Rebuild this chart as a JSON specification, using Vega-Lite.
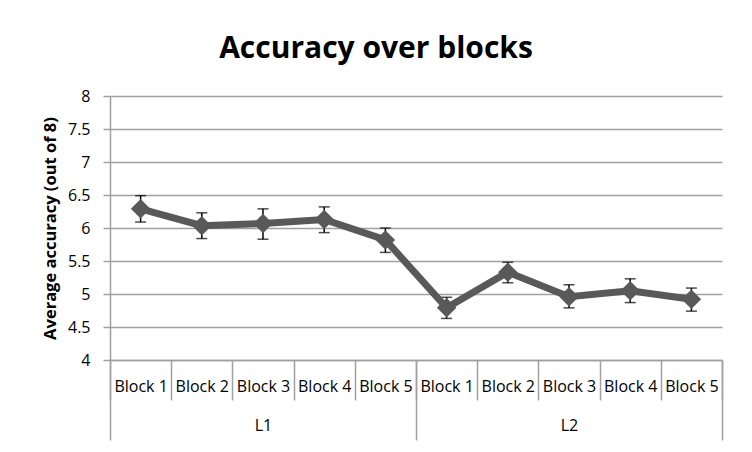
{
  "$schema": "https://vega.github.io/schema/vega-lite/v6.json",
  "width": 612,
  "height": 264,
  "autosize": {"type": "none"},
  "padding": {"left": 110, "top": 96, "right": 30, "bottom": 92},
  "background": "white",
  "title": {
    "text": "Accuracy over blocks",
    "font": "Open Sans",
    "fontSize": 30,
    "fontWeight": "bold",
    "color": "black",
    "anchor": "middle",
    "dx": -40,
    "offset": 24
  },
  "data": {
    "values": [
      {"pos": 0.5, "block": "Block 1", "level": "L1", "mean": 6.29, "lo": 6.09, "hi": 6.49},
      {"pos": 1.5, "block": "Block 2", "level": "L1", "mean": 6.035, "lo": 5.84, "hi": 6.23},
      {"pos": 2.5, "block": "Block 3", "level": "L1", "mean": 6.07, "lo": 5.83, "hi": 6.29},
      {"pos": 3.5, "block": "Block 4", "level": "L1", "mean": 6.13, "lo": 5.93, "hi": 6.32},
      {"pos": 4.5, "block": "Block 5", "level": "L1", "mean": 5.82, "lo": 5.63, "hi": 6.0},
      {"pos": 5.5, "block": "Block 1", "level": "L2", "mean": 4.79, "lo": 4.63, "hi": 4.95},
      {"pos": 6.5, "block": "Block 2", "level": "L2", "mean": 5.33, "lo": 5.17, "hi": 5.48},
      {"pos": 7.5, "block": "Block 3", "level": "L2", "mean": 4.96, "lo": 4.79, "hi": 5.14},
      {"pos": 8.5, "block": "Block 4", "level": "L2", "mean": 5.05, "lo": 4.87, "hi": 5.23},
      {"pos": 9.5, "block": "Block 5", "level": "L2", "mean": 4.92, "lo": 4.74, "hi": 5.09}
    ]
  },
  "layer": [
    {
      "mark": {"type": "errorbar", "color": "black", "thickness": 1.5, "ticks": {"size": 11, "color": "black", "thickness": 1.5}},
      "encoding": {
        "x": {"field": "pos", "type": "quantitative", "scale": {"domain": [0, 10], "nice": false, "zero": false}, "axis": null},
        "y": {"field": "lo", "type": "quantitative", "scale": {"domain": [4, 8], "nice": false, "zero": false}, "title": "Average accuracy (out of 8)"},
        "y2": {"field": "hi"}
      }
    },
    {
      "mark": {"type": "line", "color": "#595959", "strokeWidth": 7},
      "encoding": {
        "x": {"field": "pos", "type": "quantitative", "scale": {"domain": [0, 10], "nice": false, "zero": false},
          "axis": {"orient": "bottom", "values": [0.5, 1.5, 2.5, 3.5, 4.5, 5.5, 6.5, 7.5, 8.5, 9.5], "labelExpr": "'Block ' + (floor(datum.value) % 5 + 1)", "ticks": false, "domain": true, "labelPadding": 18, "title": null}},
        "y": {"field": "mean", "type": "quantitative", "title": "Average accuracy (out of 8)"}
      }
    },
    {
      "mark": {"type": "point", "shape": "diamond", "filled": true, "color": "#595959", "size": 380, "opacity": 1},
      "encoding": {
        "x": {"field": "pos", "type": "quantitative", "scale": {"domain": [0, 10], "nice": false, "zero": false},
          "axis": {"orient": "bottom", "values": [0, 1, 2, 3, 4, 5, 6, 7, 8, 9, 10], "labels": false, "ticks": true, "tickSize": 40, "domain": false, "title": null}},
        "y": {"field": "mean", "type": "quantitative", "title": "Average accuracy (out of 8)"}
      }
    },
    {
      "mark": {"type": "point", "opacity": 0},
      "encoding": {
        "x": {"field": "pos", "type": "quantitative", "scale": {"domain": [0, 10], "nice": false, "zero": false},
          "axis": {"orient": "bottom", "values": [0, 5, 10], "labels": false, "ticks": true, "tickSize": 80, "domain": false, "title": null}},
        "y": {"field": "mean", "type": "quantitative", "title": "Average accuracy (out of 8)"}
      }
    },
    {
      "mark": {"type": "point", "opacity": 0},
      "encoding": {
        "x": {"field": "pos", "type": "quantitative", "scale": {"domain": [0, 10], "nice": false, "zero": false},
          "axis": {"orient": "bottom", "values": [2.5, 7.5], "labelExpr": "datum.value < 5 ? 'L1' : 'L2'", "ticks": false, "domain": false, "labelPadding": 57, "title": null}},
        "y": {"field": "mean", "type": "quantitative", "title": "Average accuracy (out of 8)"}
      }
    }
  ],
  "resolve": {"axis": {"x": "independent"}},
  "config": {
    "view": {"stroke": null},
    "font": "Open Sans",
    "axis": {
      "labelFont": "Open Sans",
      "titleFont": "Open Sans",
      "labelColor": "black",
      "titleColor": "black",
      "domainColor": "#a0a0a0",
      "tickColor": "#a0a0a0",
      "gridColor": "#a0a0a0",
      "domainWidth": 1.5,
      "tickWidth": 1.5,
      "gridWidth": 1.5
    },
    "axisX": {
      "grid": false,
      "labelFontSize": 16,
      "labelFlush": false,
      "labelOverlap": false
    },
    "axisY": {
      "grid": true,
      "values": [4, 4.5, 5, 5.5, 6, 6.5, 7, 7.5, 8],
      "format": "~g",
      "tickSize": 7,
      "labelPadding": 13,
      "labelFontSize": 16,
      "titleFontSize": 16.5,
      "titleFontWeight": "bold",
      "titlePadding": 9
    }
  }
}
